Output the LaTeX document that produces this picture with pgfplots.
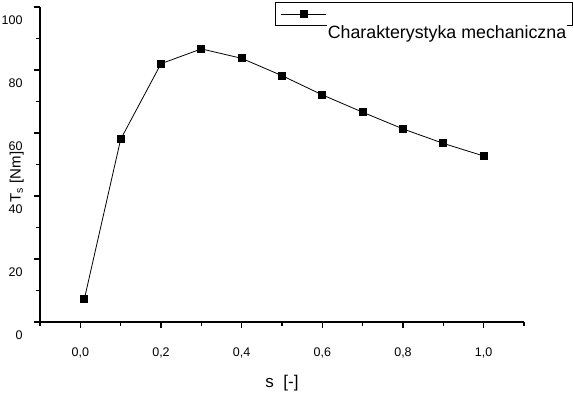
\documentclass[border=0pt]{standalone}
\usepackage{fontspec}
\setmainfont{Liberation Sans}
\usepackage{pgfplots}
\pgfplotsset{compat=1.18}
\begin{document}
\begin{tikzpicture}
\begin{axis}[
  scale only axis, width=484pt, height=315pt,
  xmin=-0.1, xmax=1.1, ymin=0, ymax=100,
  axis x line*=bottom, axis y line*=left,
  axis line style={line width=1.5pt, -},
  xtick={0,0.2,0.4,0.6,0.8,1.0},
  minor xtick={-0.1,0.1,0.3,0.5,0.7,0.9,1.1},
  ytick={0,20,40,60,80,100},
  minor ytick={10,30,50,70,90},
  tick align=outside, major tick length=6pt, minor tick length=4pt,
  tick style={black, line width=1.5pt},
  /pgf/number format/assume math mode=true,
  x tick label style={/pgf/number format/.cd, fixed, fixed zerofill, precision=1, use comma, /tikz/.cd, font=\fontsize{12.5}{14}\selectfont, yshift=-16pt},
  y tick label style={font=\fontsize{12.5}{14}\selectfont, xshift=-8pt, yshift=-13pt},
  xlabel={s\ \ [-]},
  xlabel style={at={(axis description cs:0.5,-0.194)}, anchor=center, font=\fontsize{17}{19}\selectfont},
  ylabel={T\textsubscript{s} [Nm]},
  ylabel style={at={(axis description cs:-0.048,0.46)}, anchor=center, font=\fontsize{15}{17}\selectfont},
  legend style={at={(0.4855,1.0159)}, anchor=north west, draw=black, line width=1pt,
    inner xsep=5.5pt, inner ysep=0pt, nodes={inner sep=0pt}, column sep=0pt,
    font=\fontsize{17.8}{20}\selectfont},
  legend image code/.code={\path[draw=none,fill=none] (0pt,-11.5pt) rectangle (45pt,11.5pt);\draw[mark repeat=2,mark phase=2,#1] plot coordinates {(0pt,0pt) (22.5pt,0pt) (45pt,0pt)};},
]
\addplot[black, line width=0.8pt, mark=square*, mark size=3.5pt, mark options={solid}] coordinates {
  (0.01,7.3) (0.1,58.0) (0.2,82.0) (0.3,86.7) (0.4,83.7) (0.5,78.2)
  (0.6,72.1) (0.7,66.6) (0.8,61.3) (0.9,56.7) (1.0,52.7)
};
\addlegendentry{\smash{\raisebox{-25pt}{\setlength{\fboxsep}{1pt}\colorbox{white}{Charakterystyka mechaniczna}}}}
\end{axis}
\pgfresetboundingbox
\path[use as bounding box] (-40pt,-71pt) rectangle (533pt,322pt);
\end{tikzpicture}
\end{document}
